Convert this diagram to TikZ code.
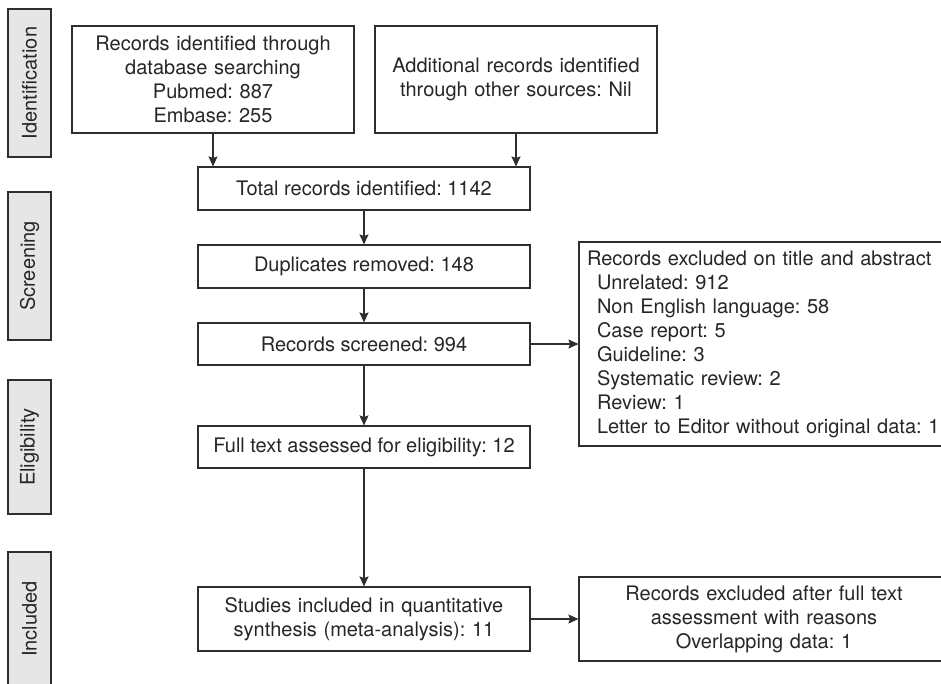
\documentclass[tikz,border=0pt]{standalone}
\usepackage{fontspec}
\setmainfont{TeX Gyre Heros}
\usepackage{xcolor}
\usepackage{tikz}
\usetikzlibrary{arrows.meta, positioning, calc}
\definecolor{boxline}{HTML}{2E2E2E}
\definecolor{stagefill}{HTML}{E6E6E7}
\tikzstyle{stage} = [rectangle, draw=boxline, fill=stagefill, rotate=90, minimum height=43pt, inner sep=0pt, line width=1.1pt]
\tikzstyle{process} = [rectangle, draw=boxline, text centered, inner sep=0pt, line width=1.1pt]
\tikzstyle{excluded} = [rectangle, draw=boxline, inner xsep=8pt, inner ysep=0pt, line width=1.1pt]
\tikzstyle{arrow} = [line width=1.1pt, draw=boxline, -{Stealth[length=10pt,width=9pt,inset=1.5pt]}]
\frenchspacing

\begin{document}
\begin{tikzpicture}[x=1pt, y=-1pt, font=\fontsize{20}{24}\selectfont, text=black!85]
      \useasboundingbox (0,0) rectangle (941,683);

      % Stage labels
      \node[stage, minimum width=148pt] (ident) at (29.5,83) {Identification};
      \node[stage, minimum width=148pt] (screening) at (29.5,266) {Screening};
      \node[stage, minimum width=134pt] (elig) at (29.5,447) {Eligibility};
      \node[stage, minimum width=134pt] (included) at (29.5,619) {Included};

      % Identification
      \node[process, minimum width=282pt, minimum height=107pt, text width=270pt] (db) at (213,79.5) {Records identified through\\database searching\\Pubmed: 887\\Embase: 255};
      \node[process, minimum width=282pt, minimum height=107pt, text width=270pt] (other) at (516,79.5) {Additional records identified\\through other sources: Nil};
      \node[process, minimum width=332pt, minimum height=43pt] (total) at (364,188.5) {Total records identified: 1142};

      % Screening
      \node[process, minimum width=332pt, minimum height=43pt] (dup) at (364,266.5) {Duplicates removed: 148};
      \node[process, minimum width=332pt, minimum height=42pt] (screen) at (364,344) {Records screened: 994};
      \node[excluded, text width=360pt, minimum height=204pt, align=left] (excl) at (767,344) {Records excluded on title and abstract\\
        \hspace*{10pt}Unrelated: 912\\
        \hspace*{10pt}Non English language: 58\\
        \hspace*{10pt}Case report: 5\\
        \hspace*{10pt}Guideline: 3\\
        \hspace*{10pt}Systematic review: 2\\
        \hspace*{10pt}Review: 1\\
        \hspace*{10pt}Letter to Editor without original data: 1};

      % Eligibility and inclusion
      \node[process, minimum width=332pt, minimum height=42pt] (full) at (364,447) {Full text assessed for eligibility: 12};
      \node[process, minimum width=332pt, minimum height=64pt, text width=320pt] (studies) at (364,619) {Studies included in quantitative\\synthesis (meta-analysis): 11};
      \node[process, minimum width=370pt, minimum height=84pt, text width=358pt] (exfull) at (764,619) {Records excluded after full text\\assessment with reasons\\Overlapping data: 1};

      % Arrows
      \draw[arrow] (db.south) -- (db.south |- total.north);
      \draw[arrow] (other.south) -- (other.south |- total.north);
      \draw[arrow] (total) -- (dup);
      \draw[arrow] (dup) -- (screen);
      \draw[arrow] (screen) -- (excl);
      \draw[arrow] (screen) -- (full);
      \draw[arrow] (full) -- (studies);
      \draw[arrow] (studies) -- (exfull);
\end{tikzpicture}
\end{document}
